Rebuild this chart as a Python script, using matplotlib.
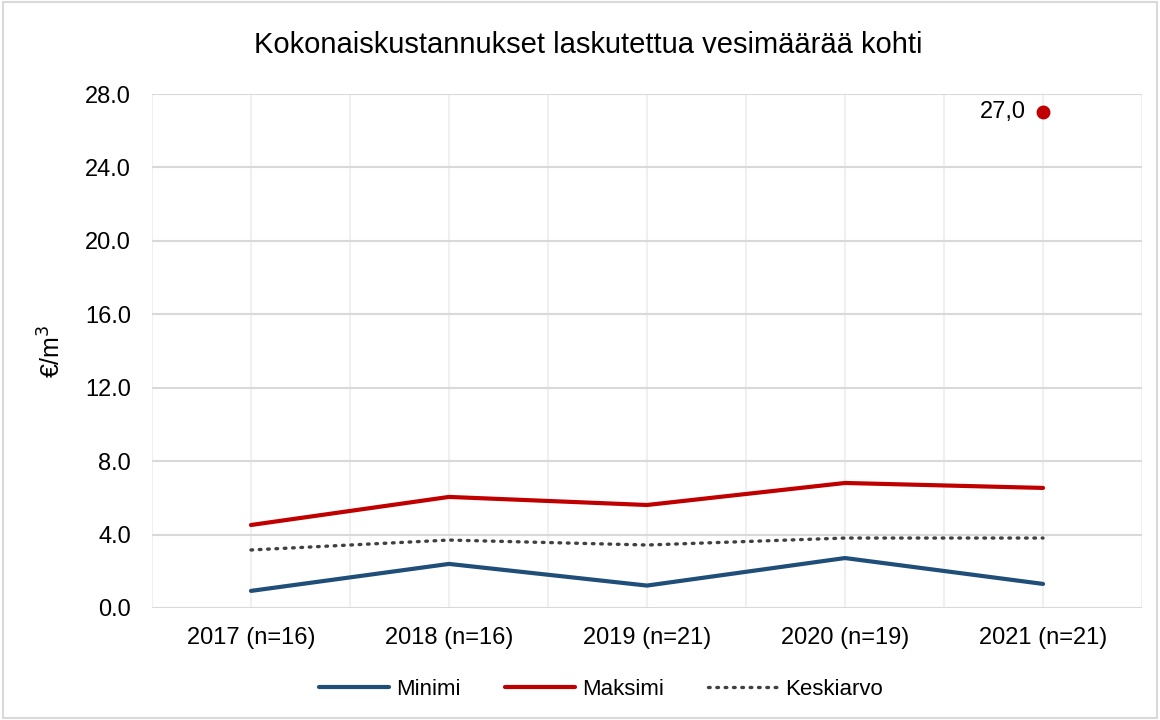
import matplotlib
matplotlib.use("Agg")
import matplotlib.pyplot as plt
from matplotlib.patches import Rectangle

plt.rcParams['font.family'] = ['Liberation Sans', 'DejaVu Sans']

categories = ["2017 (n=16)", "2018 (n=16)", "2019 (n=21)", "2020 (n=19)", "2021 (n=21)"]
minimi = [0.93, 2.40, 1.22, 2.72, 1.31]
maksimi = [4.52, 6.05, 5.61, 6.81, 6.54]
keskiarvo = [3.16, 3.70, 3.43, 3.81, 3.81]
outlier_value = 27.0
outlier_label = "27,0"
yticks = [0, 4, 8, 12, 16, 20, 24, 28]

fig = plt.figure(figsize=(11.6, 7.2), dpi=100)
ax = fig.add_axes([0.131, 0.1556, 0.8535, 0.7138])

x = list(range(len(categories)))
ax.plot(x, minimi, color='#1f4e79', lw=3, label='Minimi', solid_capstyle='round', zorder=3)
ax.plot(x, maksimi, color='#c00000', lw=3, label='Maksimi', solid_capstyle='round', zorder=3)
ax.plot(x, keskiarvo, color='#404040', lw=2.4, ls=(0, (0.5, 2.0)), dash_capstyle='round',
        label='Keskiarvo', zorder=3)
ax.plot([x[-1]], [outlier_value], 'o', color='#c00000', ms=9, zorder=4)
ax.annotate(outlier_label, (x[-1], outlier_value), xytext=(-12, 0), textcoords='offset points',
            ha='right', va='center', fontsize=17)

ax.set_xlim(-0.5, len(categories) - 0.5)
ax.set_ylim(0, 28)
ax.set_yticks(yticks)
ax.set_yticklabels([f"{v:.1f}" for v in yticks], fontsize=17)
ax.set_xticks(x)
ax.set_xticklabels(categories, fontsize=17)
ax.tick_params(axis='x', length=0, pad=14)
ax.tick_params(axis='y', length=0, pad=15)

for yv in yticks:
    ax.axhline(yv, color='#d9d9d9', lw=1.5, zorder=1)
for xv in [i * 0.5 - 0.5 for i in range(2 * len(categories) + 1)]:
    ax.axvline(xv, color='#f0f0f0', lw=1.5, zorder=0)
for s in ax.spines.values():
    s.set_visible(False)

ax.set_ylabel("€/m$^3$", fontsize=18, labelpad=14)
fig.text(0.507, 0.937, "Kokonaiskustannukset laskutettua vesimäärää kohti", ha='center', va='center', fontsize=21)

leg = fig.legend(loc='center', bbox_to_anchor=(0.518, 0.042), ncol=3, frameon=False, fontsize=16,
                 handlelength=3.15, columnspacing=2.0, handletextpad=0.3)

fig.patches.append(Rectangle((0.003, 0.003), 0.994, 0.994, transform=fig.transFigure,
                             fill=False, edgecolor='#d9d9d9', lw=1.5))
fig.savefig("out.png", dpi=100)
